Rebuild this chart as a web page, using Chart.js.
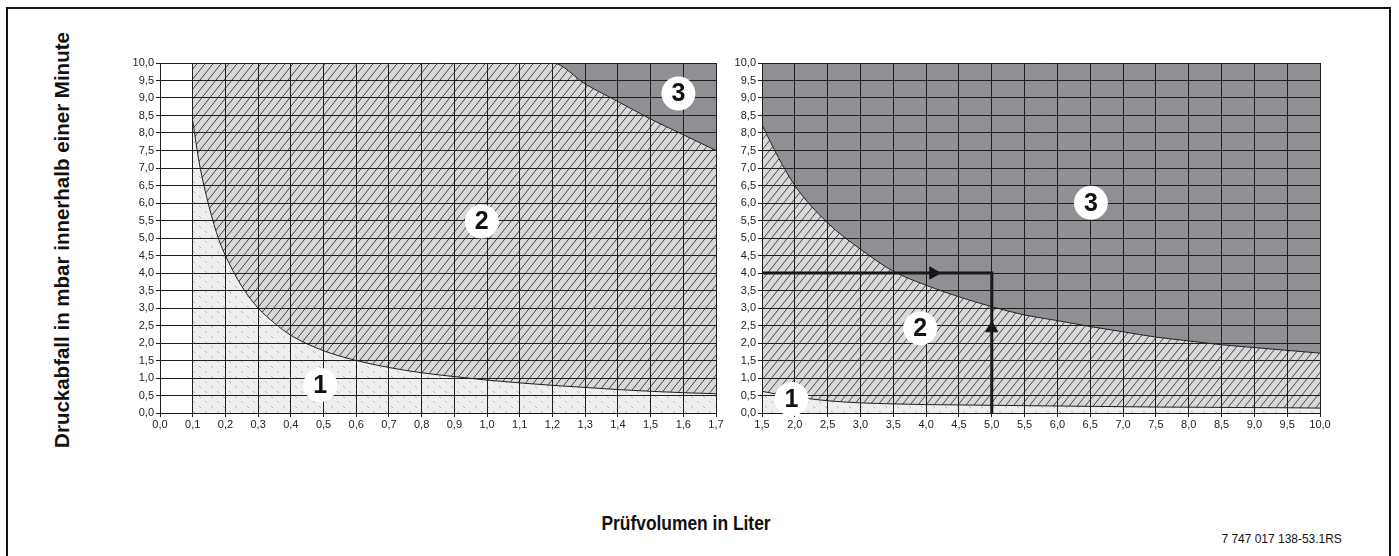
<!DOCTYPE html>
<html>
<head>
<meta charset="utf-8">
<script src="https://cdn.jsdelivr.net/npm/chart.js@4.4.1/dist/chart.umd.min.js"></script>
<style>
  body { margin:0; width:1399px; height:556px; position:relative; overflow:hidden; background:#fff;
         font-family:"Liberation Sans", Arial, Helvetica, sans-serif; color:#111; }
  #rahmen { position:absolute; left:6px; top:7px; width:1385px; height:600px; border:2px solid #111; box-sizing:border-box; }
  canvas { position:absolute; top:50px; }
  #links  { left:120px; }
  #rechts { left:722px; }
  #ytitel { position:absolute; left:62px; top:240px; transform:translate(-50%,-50%) rotate(-90deg);
            white-space:nowrap; font-weight:bold; font-size:20.5px; }
  #xtitel { position:absolute; left:686px; top:523px; transform:translate(-50%,-50%) scaleX(0.87);
            white-space:nowrap; font-weight:bold; font-size:20px; }
  #code   { position:absolute; right:57px; top:531px; font-size:13px; white-space:nowrap; transform-origin:right center; transform:scaleX(0.92); }
</style>
</head>
<body>
<div id="rahmen"></div>
<canvas id="links" width="610" height="380"></canvas>
<canvas id="rechts" width="612" height="380"></canvas>
<div id="ytitel">Druckabfall in mbar innerhalb einer Minute</div>
<div id="xtitel">Prüfvolumen in Liter</div>
<div id="code">7 747 017 138-53.1RS</div>

<script>
// --- Werte linke Grafik (0,0 ... 1,7 l) ---
const xLinks      = [0.1, 0.12, 0.15, 0.18, 0.2, 0.25, 0.3, 0.35, 0.4, 0.5, 0.6, 0.7, 0.8, 0.9, 1.0, 1.1, 1.2, 1.3, 1.4, 1.5, 1.6, 1.7];
const grenze1Links = [8.35, 7.15, 5.9, 4.95, 4.5, 3.62, 3.0, 2.57, 2.22, 1.78, 1.5, 1.3, 1.15, 1.04, 0.94, 0.86, 0.79, 0.73, 0.67, 0.62, 0.58, 0.55];
const grenze2Links = [10, 10, 10, 10, 10, 10, 10, 10, 10, 10, 10, 10, 10, 10, 10, 10, 10, 9.4, 8.9, 8.4, 7.95, 7.5];
const obenLinks    = [10, 10, 10, 10, 10, 10, 10, 10, 10, 10, 10, 10, 10, 10, 10, 10, 10, 10, 10, 10, 10, 10];

// --- Werte rechte Grafik (1,5 ... 10,0 l) ---
const xRechts       = [1.5, 1.75, 2.0, 2.5, 3.0, 3.5, 4.0, 4.5, 5.0, 5.5, 6.0, 6.5, 7.0, 7.5, 8.0, 8.5, 9.0, 9.5, 10.0];
const grenze1Rechts = [0.62, 0.53, 0.46, 0.35, 0.29, 0.26, 0.24, 0.23, 0.22, 0.21, 0.2, 0.19, 0.18, 0.17, 0.165, 0.16, 0.155, 0.15, 0.14];
const grenze2Rechts = [8.23, 7.3, 6.5, 5.43, 4.68, 4.05, 3.65, 3.32, 3.04, 2.8, 2.64, 2.47, 2.32, 2.17, 2.06, 1.95, 1.87, 1.79, 1.71];
const obenRechts    = [10, 10, 10, 10, 10, 10, 10, 10, 10, 10, 10, 10, 10, 10, 10, 10, 10, 10, 10];

// Ablesebeispiel: 5 l Prüfvolumen, 4 mbar Druckabfall
const beispielX = [1.5, 5.0, 5.0];
const beispielY = [4.0, 4.0, 0.0];
const pfeilX    = [4.11, 5.0];
const pfeilY    = [4.0, 2.42];
const pfeilDreh = [90, 0];

// Bereichsnummern
const nrLinks  = ['1', '2', '3'];
const nrXLinks = [0.49, 0.984, 1.585];
const nrYLinks = [0.8, 5.47, 9.13];
const nrRechts  = ['1', '2', '3'];
const nrXRechts = [1.95, 3.91, 6.51];
const nrYRechts = [0.4, 2.42, 6.01];

// Achsenbeschriftung
const yTicks       = [0, 0.5, 1, 1.5, 2, 2.5, 3, 3.5, 4, 4.5, 5, 5.5, 6, 6.5, 7, 7.5, 8, 8.5, 9, 9.5, 10];
const xTicksLinks  = [0, 0.1, 0.2, 0.3, 0.4, 0.5, 0.6, 0.7, 0.8, 0.9, 1.0, 1.1, 1.2, 1.3, 1.4, 1.5, 1.6, 1.7];
const xTicksRechts = [1.5, 2, 2.5, 3, 3.5, 4, 4.5, 5, 5.5, 6, 6.5, 7, 7.5, 8, 8.5, 9, 9.5, 10];

const LINIE = '#1e1e1e';
const GRAU3 = '#8f9094';

function punkte(xs, ys) {
  return xs.map((x, i) => ({ x: x, y: ys[i] }));
}

// Schraffur Bereich 2: helles Grau mit "/"-Linien
function schraffur2() {
  const c = document.createElement('canvas');
  c.width = 8; c.height = 10;
  const g = c.getContext('2d');
  g.fillStyle = '#d8d8d8';
  g.fillRect(0, 0, 8, 10);
  g.strokeStyle = '#333';
  g.lineWidth = 0.9;
  g.beginPath();
  g.moveTo(-1, 11.25); g.lineTo(9, -1.25);
  g.moveTo(-9, 11.25); g.lineTo(1, -1.25);
  g.moveTo(7, 11.25); g.lineTo(17, -1.25);
  g.stroke();
  return g.createPattern(c, 'repeat');
}

// Bereich 1: sehr helles Grau mit kurzen "\"-Strichen
function schraffur1() {
  const c = document.createElement('canvas');
  c.width = 12; c.height = 10;
  const g = c.getContext('2d');
  g.fillStyle = '#eeeeee';
  g.fillRect(0, 0, 12, 10);
  g.strokeStyle = '#a8a8a8';
  g.lineWidth = 0.8;
  g.beginPath();
  g.moveTo(1, 1); g.lineTo(3, 3);
  g.moveTo(7, 6); g.lineTo(9, 8);
  g.stroke();
  return g.createPattern(c, 'repeat');
}

const muster1 = schraffur1();
const muster2 = schraffur2();

const komma = v => Number(v).toFixed(1).replace('.', ',');
const tickFont = { family: '"Liberation Sans", Arial, sans-serif', size: 11 };

// weiße Kreise mit Bereichsnummer
const nummernPlugin = {
  id: 'nummern',
  afterDraw(chart, args, opts) {
    const { ctx, scales } = chart;
    ctx.save();
    opts.text.forEach((t, i) => {
      const px = scales.x.getPixelForValue(opts.xs[i]);
      const py = scales.y.getPixelForValue(opts.ys[i]);
      ctx.beginPath();
      ctx.arc(px, py, 17, 0, Math.PI * 2);
      ctx.fillStyle = '#fff';
      ctx.fill();
      ctx.fillStyle = '#111';
      ctx.font = 'bold 25px "Liberation Sans", Arial, sans-serif';
      ctx.textAlign = 'center';
      ctx.textBaseline = 'middle';
      ctx.fillText(t, px, py + 1);
    });
    ctx.restore();
  }
};

function flaeche(data, fill, bg) {
  return {
    data: data, fill: fill, backgroundColor: bg,
    borderColor: LINIE, borderWidth: 1, pointRadius: 0,
    cubicInterpolationMode: 'monotone'
  };
}

// Gitter liegt über den Flächen (z > 0)
function achsen(xMin, xMax, xTicks) {
  return {
    x: {
      type: 'linear', min: xMin, max: xMax,
      afterBuildTicks: a => { a.ticks = xTicks.map(v => ({ value: v })); },
      afterFit: s => { s.height = 17; },
      ticks: { z: 1, font: tickFont, color: '#222', padding: 1, maxRotation: 0, autoSkip: false, callback: komma },
      grid: { z: 1, color: LINIE, lineWidth: 1, tickLength: 4 },
      border: { z: 1, color: LINIE, width: 1 }
    },
    y: {
      type: 'linear', min: 0, max: 10,
      afterBuildTicks: a => { a.ticks = yTicks.map(v => ({ value: v })); },
      afterFit: s => { s.width = 40; },
      ticks: { z: 1, font: tickFont, color: '#222', padding: 2, autoSkip: false, callback: komma },
      grid: { z: 1, color: LINIE, lineWidth: 1, tickLength: 4 },
      border: { z: 1, color: LINIE, width: 1 }
    }
  };
}

const gemeinsam = {
  responsive: false,
  animation: false,
  devicePixelRatio: 1,
  layout: { padding: { top: 13, right: 14, left: 0, bottom: 0 } },
  plugins: { legend: { display: false }, tooltip: { enabled: false } }
};

new Chart(document.getElementById('links'), {
  type: 'line',
  data: {
    datasets: [
      flaeche(punkte(xLinks, grenze1Links), 'origin', muster1),
      flaeche(punkte(xLinks, grenze2Links), '-1', muster2),
      flaeche(punkte(xLinks, obenLinks), '-1', GRAU3)
    ]
  },
  options: Object.assign({}, gemeinsam, {
    scales: achsen(0, 1.7, xTicksLinks),
    plugins: Object.assign({}, gemeinsam.plugins, {
      nummern: { text: nrLinks, xs: nrXLinks, ys: nrYLinks }
    })
  }),
  plugins: [nummernPlugin]
});

new Chart(document.getElementById('rechts'), {
  type: 'line',
  data: {
    datasets: [
      {
        data: punkte(pfeilX, pfeilY), showLine: false,
        pointStyle: 'triangle', pointRadius: 7, rotation: pfeilDreh,
        backgroundColor: '#151515', borderColor: '#151515', borderWidth: 1
      },
      {
        data: punkte(beispielX, beispielY), fill: false,
        borderColor: '#151515', borderWidth: 3, pointRadius: 0, tension: 0
      },
      flaeche(punkte(xRechts, grenze1Rechts), 'origin', muster1),
      flaeche(punkte(xRechts, grenze2Rechts), '-1', muster2),
      flaeche(punkte(xRechts, obenRechts), '-1', GRAU3)
    ]
  },
  options: Object.assign({}, gemeinsam, {
    scales: achsen(1.5, 10, xTicksRechts),
    plugins: Object.assign({}, gemeinsam.plugins, {
      nummern: { text: nrRechts, xs: nrXRechts, ys: nrYRechts }
    })
  }),
  plugins: [nummernPlugin]
});
</script>
</body>
</html>
